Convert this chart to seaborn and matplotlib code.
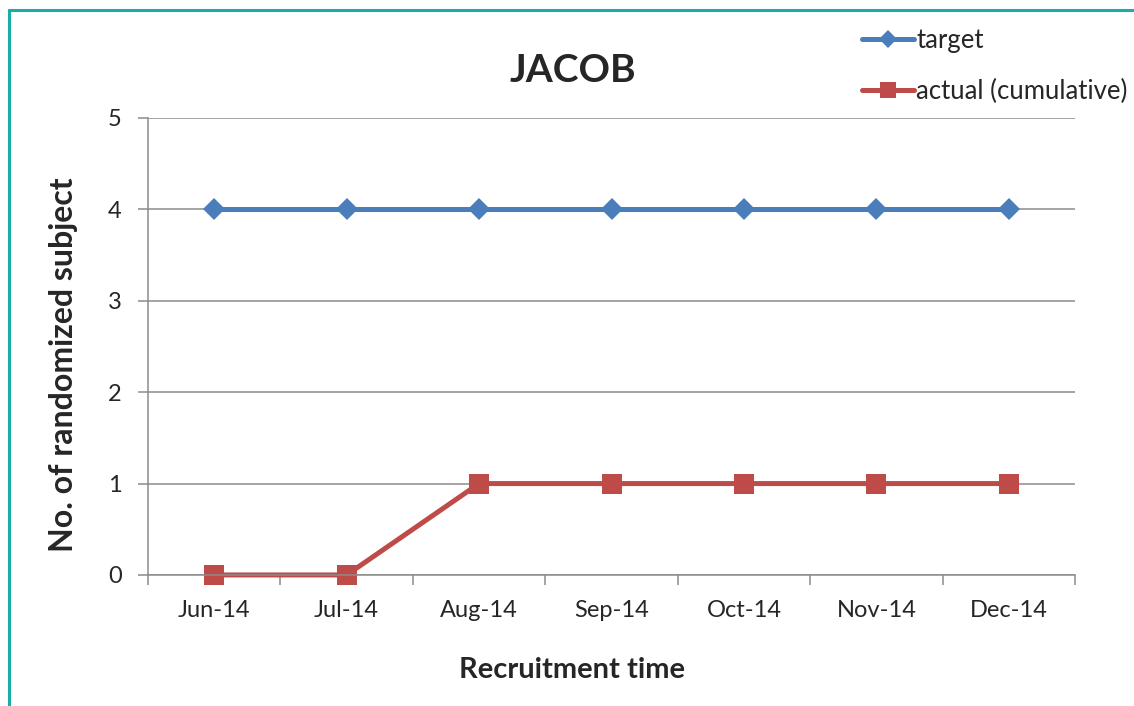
import numpy as np
import pandas as pd
import matplotlib
matplotlib.use("Agg")
import matplotlib.pyplot as plt
from matplotlib.lines import Line2D
import seaborn as sns

# data
months = ["Jun-14", "Jul-14", "Aug-14", "Sep-14", "Oct-14", "Nov-14", "Dec-14"]
target = [4, 4, 4, 4, 4, 4, 4]
actual = [0, 0, 1, 1, 1, 1, 1]

sns.set_style("white")
plt.rcParams['font.family'] = ['Lato', 'DejaVu Sans']

blue = "#4A7EBB"
red = "#BE4B48"
grid_c = "#8C8C8C"

df = pd.DataFrame({
    "month": months * 2,
    "value": target + actual,
    "series": ["target"] * len(months) + ["actual (cumulative)"] * len(months),
})

fig = plt.figure(figsize=(11.34, 7.06), dpi=100)
ax = fig.add_axes([0.1305, 0.1856, 0.8175, 0.6473])

sns.lineplot(data=df[df.series == "target"], x="month", y="value", ax=ax,
             color=blue, lw=3.6, marker="D", markersize=11, markeredgewidth=0,
             label="target", clip_on=False)
sns.lineplot(data=df[df.series == "actual (cumulative)"], x="month", y="value", ax=ax,
             color=red, lw=3.6, marker="s", markersize=14, markeredgewidth=0,
             label="actual (cumulative)", clip_on=False)

ax.set_xlim(-0.5, len(months) - 0.5)
ax.set_ylim(0, 5)
ax.set_yticks(range(0, 6))
ax.yaxis.grid(True, color=grid_c, lw=1.1)
ax.set_axisbelow(True)

# category boundary ticks on the x axis
ax.set_xticks(np.arange(len(months)))
ax.set_xticklabels(months, fontsize=17)
ax.set_xticks(np.arange(-0.5, len(months)), minor=True)
ax.tick_params(axis="x", which="major", length=0, pad=18)
ax.tick_params(axis="x", which="minor", length=7, width=1.1, color=grid_c, direction="out", bottom=True)
ax.tick_params(axis="y", length=7, width=1.1, color=grid_c, direction="out", left=True, labelsize=17, pad=12)

for s in ["top", "right"]:
    ax.spines[s].set_visible(False)
for s in ["left", "bottom"]:
    ax.spines[s].set_color(grid_c)
    ax.spines[s].set_linewidth(1.1)

ax.set_xlabel("Recruitment time", fontsize=21, fontweight="bold")
ax.set_ylabel("No. of randomized subject", fontsize=23, fontweight="bold")
ax.xaxis.set_label_coords(0.457, -0.18)
ax.yaxis.set_label_coords(-0.076, 0.46)

fig.text(0.505, 0.90, "JACOB", ha="center", va="center", fontsize=28, fontweight="bold")

ax.get_legend().remove()
handles = [
    Line2D([], [], color=blue, lw=3.6, marker="D", markersize=9, markeredgewidth=0),
    Line2D([], [], color=red, lw=3.6, marker="s", markersize=12, markeredgewidth=0),
]
fig.legend(handles, ["target", "actual (cumulative)"], loc="upper left",
           bbox_to_anchor=(0.740, 0.993), frameon=False, fontsize=18.5,
           handlelength=2.0, handletextpad=0.1, labelspacing=1.0)

# teal frame edges (left and top)
teal = "#1AADA6"
fig.add_artist(Line2D([0.0075, 0.0075], [0, 0.986], transform=fig.transFigure, color=teal, lw=2.2))
fig.add_artist(Line2D([0.0075, 1.0], [0.986, 0.986], transform=fig.transFigure, color=teal, lw=2.2))

fig.savefig("out.png", dpi=100)
